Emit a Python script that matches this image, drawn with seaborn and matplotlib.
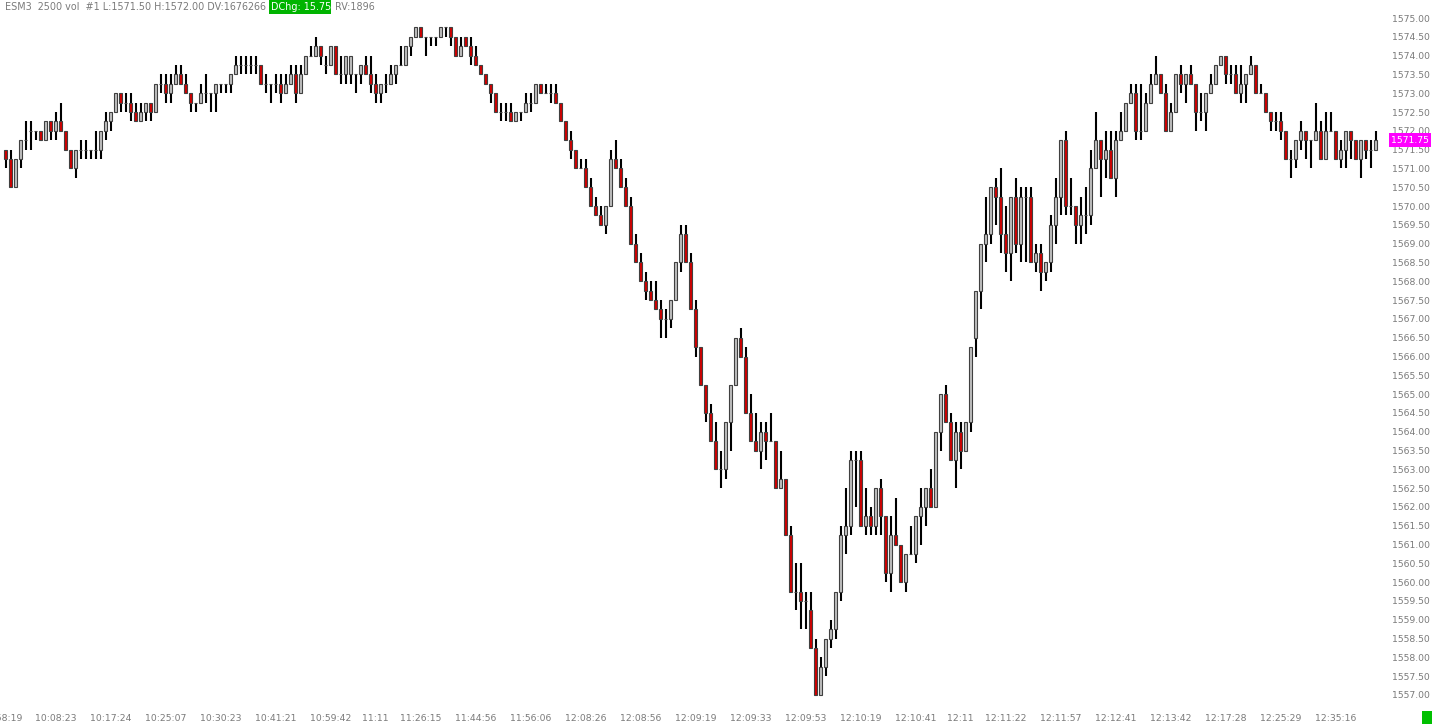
import matplotlib
matplotlib.use("Agg")
import matplotlib.pyplot as plt
import matplotlib.patches as mpatches
import matplotlib.transforms as mtransforms
from matplotlib.ticker import FormatStrFormatter
import seaborn as sns
import pandas as pd
import numpy as np

# ESM3 2500 volume bars (tick = 0.25)
open_price = [
    1571.50, 1571.25, 1570.50, 1571.25, 1571.75, 1572.00, 1572.00, 1572.00, 1571.75, 1572.25,
    1572.00, 1572.25, 1572.00, 1571.50, 1571.00, 1571.50, 1571.50, 1571.50, 1571.50, 1571.50,
    1572.00, 1572.25, 1572.50, 1573.00, 1572.75, 1572.75, 1572.50, 1572.25, 1572.50, 1572.75,
    1572.50, 1573.25, 1573.25, 1573.00, 1573.25, 1573.50, 1573.25, 1573.00, 1572.75, 1572.75,
    1573.00, 1573.00, 1573.00, 1573.25, 1573.25, 1573.25, 1573.50, 1573.75, 1573.75, 1573.75,
    1573.75, 1573.75, 1573.25, 1573.25, 1573.25, 1573.25, 1573.00, 1573.25, 1573.50, 1573.00,
    1573.50, 1574.00, 1574.00, 1574.25, 1573.75, 1573.75, 1574.25, 1573.50, 1573.50, 1573.50,
    1573.50, 1573.50, 1573.75, 1573.50, 1573.25, 1573.00, 1573.25, 1573.25, 1573.50, 1573.75,
    1573.75, 1574.25, 1574.50, 1574.75, 1574.50, 1574.50, 1574.50, 1574.50, 1574.75, 1574.75,
    1574.50, 1574.00, 1574.50, 1574.25, 1574.00, 1573.75, 1573.50, 1573.25, 1573.00, 1572.50,
    1572.50, 1572.50, 1572.25, 1572.50, 1572.50, 1572.75, 1572.75, 1573.25, 1573.00, 1573.00,
    1573.00, 1572.75, 1572.25, 1571.75, 1571.50, 1571.00, 1571.00, 1570.50, 1570.00, 1569.75,
    1569.50, 1570.00, 1571.25, 1571.00, 1570.50, 1570.00, 1569.00, 1568.50, 1568.00, 1567.75,
    1567.50, 1567.25, 1567.00, 1567.00, 1567.50, 1568.50, 1569.25, 1568.50, 1567.25, 1566.25,
    1565.25, 1564.50, 1563.75, 1563.00, 1563.00, 1564.25, 1565.25, 1566.50, 1566.00, 1564.50,
    1563.75, 1563.50, 1564.00, 1563.75, 1563.75, 1562.50, 1562.75, 1561.25, 1559.75, 1559.75,
    1559.50, 1559.25, 1558.25, 1557.00, 1557.75, 1558.50, 1558.75, 1559.75, 1561.25, 1561.50,
    1563.25, 1563.25, 1561.50, 1561.75, 1561.50, 1562.50, 1561.75, 1560.25, 1561.25, 1561.00,
    1560.00, 1560.75, 1560.75, 1561.75, 1562.00, 1562.50, 1562.00, 1564.00, 1565.00, 1564.25,
    1563.25, 1564.00, 1563.50, 1564.25, 1566.50, 1567.75, 1569.00, 1569.25, 1570.50, 1570.25,
    1569.25, 1568.75, 1570.25, 1569.00, 1570.25, 1570.25, 1568.50, 1568.75, 1568.25, 1568.50,
    1569.50, 1570.25, 1571.75, 1570.00, 1570.00, 1569.50, 1569.75, 1569.75, 1571.00, 1571.75,
    1571.25, 1571.50, 1570.75, 1571.75, 1572.00, 1572.75, 1573.00, 1572.00, 1572.00, 1572.75,
    1573.25, 1573.50, 1573.00, 1572.00, 1572.50, 1573.50, 1573.25, 1573.50, 1573.25, 1572.50,
    1572.50, 1573.00, 1573.25, 1573.75, 1574.00, 1573.50, 1573.50, 1573.00, 1573.25, 1573.50,
    1573.75, 1573.00, 1573.00, 1572.50, 1572.25, 1572.25, 1572.00, 1571.25, 1571.25, 1571.75,
    1572.00, 1571.75, 1571.75, 1572.00, 1571.25, 1572.00, 1572.00, 1571.25, 1571.50, 1572.00,
    1571.75, 1571.25, 1571.75, 1571.50, 1571.50,
]

high_price = [
    1571.50, 1571.50, 1571.25, 1571.75, 1572.25, 1572.25, 1572.00, 1572.00, 1572.25, 1572.25,
    1572.50, 1572.75, 1572.00, 1571.50, 1571.50, 1571.75, 1571.75, 1571.50, 1572.00, 1572.00,
    1572.50, 1572.50, 1573.00, 1573.00, 1573.00, 1573.00, 1572.75, 1572.75, 1572.75, 1572.75,
    1573.25, 1573.50, 1573.50, 1573.50, 1573.75, 1573.75, 1573.50, 1573.00, 1572.75, 1573.25,
    1573.50, 1573.00, 1573.25, 1573.25, 1573.25, 1573.50, 1574.00, 1574.00, 1574.00, 1574.00,
    1574.00, 1573.75, 1573.50, 1573.25, 1573.50, 1573.50, 1573.50, 1573.75, 1573.75, 1573.75,
    1574.00, 1574.25, 1574.50, 1574.25, 1574.00, 1574.25, 1574.25, 1574.00, 1574.00, 1574.00,
    1573.50, 1573.75, 1574.00, 1574.00, 1573.50, 1573.25, 1573.50, 1573.75, 1573.75, 1574.25,
    1574.25, 1574.50, 1574.75, 1574.75, 1574.50, 1574.50, 1574.50, 1574.75, 1574.75, 1574.75,
    1574.50, 1574.50, 1574.50, 1574.50, 1574.25, 1573.75, 1573.50, 1573.25, 1573.00, 1572.75,
    1572.75, 1572.75, 1572.50, 1572.50, 1573.00, 1573.00, 1573.25, 1573.25, 1573.25, 1573.25,
    1573.25, 1572.75, 1572.25, 1572.00, 1571.50, 1571.25, 1571.25, 1570.75, 1570.25, 1570.00,
    1570.00, 1571.50, 1571.75, 1571.25, 1570.75, 1570.25, 1569.25, 1568.75, 1568.25, 1568.00,
    1568.00, 1567.50, 1567.25, 1567.50, 1568.50, 1569.50, 1569.50, 1568.75, 1567.50, 1566.25,
    1565.25, 1564.75, 1564.25, 1563.50, 1564.25, 1565.25, 1566.50, 1566.75, 1566.25, 1565.00,
    1564.50, 1564.25, 1564.25, 1564.50, 1563.75, 1563.50, 1562.75, 1561.50, 1560.50, 1560.50,
    1559.75, 1559.75, 1558.50, 1558.00, 1558.50, 1559.00, 1559.75, 1561.50, 1562.50, 1563.50,
    1563.50, 1563.50, 1562.50, 1562.00, 1562.50, 1562.75, 1561.75, 1561.75, 1562.25, 1561.00,
    1560.75, 1561.50, 1561.75, 1562.50, 1562.50, 1563.00, 1564.00, 1565.00, 1565.25, 1564.50,
    1564.25, 1564.25, 1564.25, 1566.25, 1567.75, 1569.00, 1570.25, 1570.50, 1570.75, 1571.00,
    1570.00, 1570.25, 1570.75, 1570.50, 1570.50, 1570.50, 1569.00, 1569.00, 1568.50, 1569.75,
    1570.75, 1571.75, 1572.00, 1570.75, 1570.00, 1570.25, 1570.50, 1571.50, 1572.50, 1571.75,
    1572.00, 1572.00, 1572.00, 1572.50, 1572.75, 1573.25, 1573.25, 1573.25, 1573.00, 1573.50,
    1574.00, 1573.50, 1573.25, 1572.75, 1573.50, 1573.75, 1573.50, 1573.75, 1573.25, 1573.00,
    1573.00, 1573.50, 1573.75, 1574.00, 1574.00, 1573.75, 1573.75, 1573.75, 1573.50, 1574.00,
    1573.75, 1573.25, 1573.00, 1572.50, 1572.50, 1572.50, 1572.00, 1571.50, 1571.75, 1572.25,
    1572.00, 1571.75, 1572.75, 1572.25, 1572.50, 1572.50, 1572.00, 1571.75, 1572.00, 1572.00,
    1571.75, 1571.75, 1571.75, 1571.75, 1572.00,
]

low_price = [
    1571.00, 1570.50, 1570.50, 1571.00, 1571.50, 1571.50, 1571.75, 1571.75, 1571.75, 1571.75,
    1571.75, 1572.00, 1571.50, 1571.00, 1570.75, 1571.25, 1571.25, 1571.25, 1571.25, 1571.25,
    1571.75, 1572.00, 1572.50, 1572.50, 1572.50, 1572.25, 1572.25, 1572.25, 1572.25, 1572.25,
    1572.50, 1573.00, 1572.75, 1572.75, 1573.25, 1573.25, 1573.00, 1572.50, 1572.50, 1572.75,
    1572.75, 1572.50, 1572.50, 1573.00, 1573.00, 1573.00, 1573.50, 1573.50, 1573.50, 1573.50,
    1573.50, 1573.25, 1573.00, 1572.75, 1573.00, 1572.75, 1573.00, 1573.25, 1572.75, 1573.00,
    1573.50, 1574.00, 1574.00, 1573.75, 1573.50, 1573.75, 1573.50, 1573.25, 1573.25, 1573.25,
    1573.00, 1573.25, 1573.50, 1573.00, 1572.75, 1572.75, 1573.00, 1573.25, 1573.25, 1573.75,
    1573.75, 1574.00, 1574.50, 1574.50, 1574.00, 1574.25, 1574.25, 1574.50, 1574.50, 1574.25,
    1574.00, 1574.00, 1574.25, 1573.75, 1573.75, 1573.50, 1573.25, 1572.75, 1572.50, 1572.25,
    1572.25, 1572.25, 1572.25, 1572.25, 1572.50, 1572.50, 1572.75, 1573.00, 1573.00, 1572.75,
    1572.75, 1572.25, 1571.75, 1571.25, 1571.00, 1571.00, 1570.50, 1570.00, 1569.75, 1569.50,
    1569.25, 1570.00, 1571.00, 1570.50, 1570.00, 1569.00, 1568.50, 1568.00, 1567.50, 1567.50,
    1567.25, 1566.50, 1566.50, 1566.75, 1567.50, 1568.25, 1568.50, 1567.25, 1566.00, 1565.25,
    1564.25, 1563.75, 1563.00, 1562.50, 1562.75, 1563.50, 1565.25, 1566.00, 1564.50, 1563.75,
    1563.50, 1563.00, 1563.25, 1563.75, 1562.50, 1562.50, 1561.25, 1559.75, 1559.25, 1558.75,
    1558.75, 1558.25, 1557.00, 1557.00, 1557.50, 1558.25, 1558.50, 1559.50, 1560.75, 1561.25,
    1562.00, 1561.50, 1561.25, 1561.25, 1561.25, 1561.25, 1560.00, 1559.75, 1561.00, 1560.00,
    1559.75, 1560.75, 1560.50, 1561.00, 1561.50, 1562.00, 1562.00, 1563.50, 1564.25, 1563.25,
    1562.50, 1563.00, 1563.50, 1564.00, 1566.00, 1567.25, 1568.50, 1569.00, 1569.50, 1568.75,
    1568.25, 1568.00, 1568.75, 1568.50, 1568.50, 1568.50, 1568.25, 1567.75, 1568.00, 1568.25,
    1569.00, 1569.75, 1569.75, 1569.75, 1569.00, 1569.00, 1569.25, 1569.50, 1571.00, 1570.25,
    1570.75, 1570.75, 1570.25, 1571.75, 1572.00, 1572.75, 1571.75, 1571.75, 1572.00, 1572.75,
    1573.25, 1573.00, 1572.00, 1572.00, 1572.50, 1573.00, 1572.75, 1573.25, 1572.00, 1572.25,
    1572.00, 1573.00, 1573.25, 1573.75, 1573.25, 1573.25, 1573.00, 1572.75, 1572.75, 1573.50,
    1573.00, 1573.00, 1572.50, 1572.00, 1572.00, 1571.75, 1571.25, 1570.75, 1571.00, 1571.50,
    1571.25, 1571.00, 1571.75, 1571.25, 1571.25, 1572.00, 1571.25, 1571.00, 1571.00, 1571.25,
    1571.25, 1570.75, 1571.25, 1571.00, 1571.50,
]

close_price = [
    1571.25, 1570.50, 1571.25, 1571.75, 1571.75, 1572.00, 1572.00, 1571.75, 1572.25, 1572.00,
    1572.25, 1572.00, 1571.50, 1571.00, 1571.50, 1571.50, 1571.50, 1571.50, 1571.50, 1572.00,
    1572.25, 1572.50, 1573.00, 1572.75, 1572.75, 1572.50, 1572.25, 1572.50, 1572.75, 1572.50,
    1573.25, 1573.25, 1573.00, 1573.25, 1573.50, 1573.25, 1573.00, 1572.75, 1572.75, 1573.00,
    1573.00, 1573.00, 1573.25, 1573.25, 1573.25, 1573.50, 1573.75, 1573.75, 1573.75, 1573.75,
    1573.75, 1573.25, 1573.25, 1573.25, 1573.25, 1573.00, 1573.25, 1573.50, 1573.00, 1573.50,
    1574.00, 1574.00, 1574.25, 1574.00, 1573.75, 1574.25, 1573.50, 1573.50, 1574.00, 1574.00,
    1573.50, 1573.75, 1573.50, 1573.25, 1573.00, 1573.25, 1573.25, 1573.50, 1573.75, 1573.75,
    1574.25, 1574.50, 1574.75, 1574.50, 1574.50, 1574.50, 1574.50, 1574.75, 1574.75, 1574.50,
    1574.00, 1574.25, 1574.25, 1574.00, 1573.75, 1573.50, 1573.25, 1573.00, 1572.50, 1572.50,
    1572.50, 1572.25, 1572.50, 1572.50, 1572.75, 1572.75, 1573.25, 1573.00, 1573.00, 1573.00,
    1572.75, 1572.25, 1571.75, 1571.50, 1571.00, 1571.00, 1570.50, 1570.00, 1569.75, 1569.50,
    1570.00, 1571.25, 1571.00, 1570.50, 1570.00, 1569.00, 1568.50, 1568.00, 1567.75, 1567.50,
    1567.25, 1567.00, 1567.00, 1567.50, 1568.50, 1569.25, 1568.50, 1567.25, 1566.25, 1565.25,
    1564.50, 1563.75, 1563.00, 1563.00, 1564.25, 1565.25, 1566.50, 1566.00, 1564.50, 1563.75,
    1563.50, 1564.00, 1563.75, 1563.75, 1562.50, 1562.75, 1561.25, 1559.75, 1559.75, 1559.50,
    1559.50, 1558.25, 1557.00, 1557.75, 1558.50, 1558.75, 1559.75, 1561.25, 1561.50, 1563.25,
    1563.25, 1561.50, 1561.75, 1561.50, 1562.50, 1561.75, 1560.25, 1561.25, 1561.00, 1560.00,
    1560.75, 1560.75, 1561.75, 1562.00, 1562.50, 1562.00, 1564.00, 1565.00, 1564.25, 1563.25,
    1564.00, 1563.50, 1564.25, 1566.25, 1567.75, 1569.00, 1569.25, 1570.50, 1570.25, 1569.25,
    1568.75, 1570.25, 1569.00, 1570.25, 1570.25, 1568.50, 1568.75, 1568.25, 1568.50, 1569.50,
    1570.25, 1571.75, 1570.00, 1570.00, 1569.50, 1569.75, 1569.75, 1571.00, 1571.75, 1571.25,
    1571.50, 1570.75, 1571.75, 1572.00, 1572.75, 1573.00, 1572.00, 1572.00, 1572.75, 1573.25,
    1573.50, 1573.00, 1572.00, 1572.50, 1573.50, 1573.25, 1573.50, 1573.25, 1572.50, 1572.50,
    1573.00, 1573.25, 1573.75, 1574.00, 1573.50, 1573.50, 1573.00, 1573.25, 1573.50, 1573.75,
    1573.00, 1573.00, 1572.50, 1572.25, 1572.25, 1572.00, 1571.25, 1571.25, 1571.75, 1572.00,
    1571.75, 1571.75, 1572.00, 1571.25, 1572.00, 1572.00, 1571.25, 1571.50, 1572.00, 1571.75,
    1571.25, 1571.75, 1571.50, 1571.50, 1571.75,
]

# time axis labels and the bar each one sits under
time_label_bars = [-0.8, 10, 21, 32, 43, 54, 65, 74, 83, 94, 105, 116, 127, 138, 149,
                   160, 171, 182, 191, 200, 211, 222, 233, 244, 255, 266]
time_labels = ["09:58:19", "10:08:23", "10:17:24", "10:25:07", "10:30:23", "10:41:21",
               "10:59:42", "11:11", "11:26:15", "11:44:56", "11:56:06", "12:08:26",
               "12:08:56", "12:09:19", "12:09:33", "12:09:53", "12:10:19", "12:10:41",
               "12:11", "12:11:22", "12:11:57", "12:12:41", "12:13:42", "12:17:28",
               "12:25:29", "12:35:16"]

price_ticks = np.arange(1557.0, 1575.01, 0.5)

header_left = "ESM3  2500 vol  #1 L:1571.50 H:1572.00 DV:1676266"
header_chg = "DChg: 15.75"
header_right = "RV:1896"

df = pd.DataFrame({"open": open_price, "high": high_price,
                   "low": low_price, "close": close_price})
df["bar"] = np.arange(len(df))

sns.set_style("white")
plt.rcParams["font.family"] = ["DejaVu Sans"]

W, H = 1436, 726
fig = plt.figure(figsize=(W / 100, H / 100), dpi=100)
fig.patch.set_facecolor("white")
ax = fig.add_axes([0, 18 / H, 1385 / W, 708 / H])

body_top = df[["open", "close"]].max(axis=1)
body_bot = df[["open", "close"]].min(axis=1)
up = df.close > df.open
down = df.close < df.open
flat = df.close == df.open

# wicks
ax.vlines(df.bar, np.minimum(df.low, body_bot), np.maximum(df.high, body_top),
          color="black", linewidth=1.5, zorder=1)
# bodies
ax.bar(df.bar[up], (body_top - body_bot)[up], bottom=body_bot[up], width=0.7,
       color="#c0c0c0", edgecolor="#404040", linewidth=0.8, zorder=2)
ax.bar(df.bar[down], (body_top - body_bot)[down], bottom=body_bot[down], width=0.7,
       color="#d00000", edgecolor="#404040", linewidth=0.8, zorder=2)
ax.hlines(df.close[flat], df.bar[flat] - 0.35, df.bar[flat] + 0.35,
          color="#404040", linewidth=0.8, zorder=2)

ax.set_xlim(-1.14, 275.86)
ax.set_ylim(1556.654, 1575.479)
sns.despine(ax=ax, left=True, bottom=True)

ax.yaxis.tick_right()
ax.set_yticks(price_ticks)
ax.yaxis.set_major_formatter(FormatStrFormatter("%.2f"))
ax.tick_params(axis="y", length=0, pad=5, labelsize=6.7, labelcolor="#7a7a7a")
ax.set_xticks(time_label_bars)
ax.set_xticklabels(time_labels)
ax.tick_params(axis="x", length=0, pad=4, labelsize=6.7, labelcolor="#7a7a7a")
ax.grid(False)

# last price marker on the price scale
last = df.close.iloc[-1]
tr = mtransforms.blended_transform_factory(fig.transFigure, ax.transData)
ax.add_patch(mpatches.Rectangle((1389 / W, last - 0.186), 42 / W, 0.372,
                                transform=tr, facecolor="#ff00ff", edgecolor="none",
                                clip_on=False, zorder=10))
ax.text(1410 / W, last, f"{last:.2f}", transform=tr, ha="center", va="center",
        color="white", fontsize=6.7, zorder=11, clip_on=False)

# header line
fig.text(5 / W, 1 - 7 / H, header_left, ha="left", va="center",
         fontsize=6.9, color="#7a7a7a")
fig.patches.append(mpatches.Rectangle((269 / W, 1 - 14 / H), 62 / W, 14 / H,
                                      transform=fig.transFigure, facecolor="#00b400",
                                      edgecolor="none"))
fig.text(271 / W, 1 - 7 / H, header_chg, ha="left", va="center",
         fontsize=6.9, color="white")
fig.text(335 / W, 1 - 7 / H, header_right, ha="left", va="center",
         fontsize=6.9, color="#7a7a7a")

# status box bottom right
fig.patches.append(mpatches.Rectangle((1422 / W, 2 / H), 10 / W, 13 / H,
                                      transform=fig.transFigure, facecolor="#00c000",
                                      edgecolor="none"))

fig.savefig("out.png", dpi=100, facecolor="white")
